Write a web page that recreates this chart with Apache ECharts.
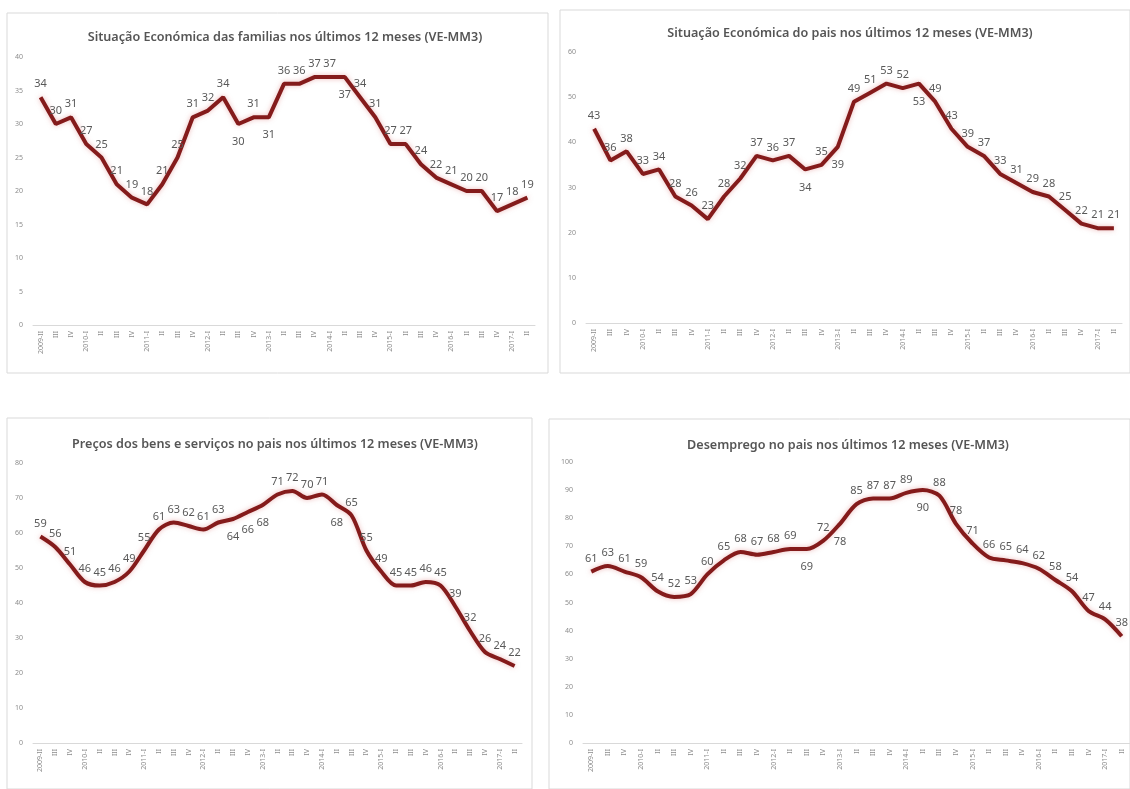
<!DOCTYPE html>
<html><head><meta charset="utf-8">
<script src="https://cdn.jsdelivr.net/npm/echarts@6/dist/echarts.min.js"></script>
<style>html,body{margin:0;padding:0;background:#fff}#c{width:1130px;height:789px}</style>
</head><body><div id="c"></div>
<script>
var categories = ["2009-II","III","IV","2010-I","II","III","IV","2011-I","II","III","IV","2012-I","II","III","IV","2013-I","II","III","IV","2014-I","II","III","IV","2015-I","II","III","IV","2016-I","II","III","IV","2017-I","II"];
var familias = [34,30,31,27,25,21,19,18,21,25,31,32,34,30,31,31,36,36,37,37,37,34,31,27,27,24,22,21,20,20,17,18,19];
var pais = [43,36,38,33,34,28,26,23,28,32,37,36,37,34,35,39,49,51,53,52,53,49,43,39,37,33,31,29,28,25,22,21,21];
var precos = [59,56,51,46,45,46,49,55,61,63,62,61,63,64,66,68,71,72,70,71,68,65,55,49,45,45,46,45,39,32,26,24,22];
var desemprego = [61,63,61,59,54,52,53,60,65,68,67,68,69,69,72,78,85,87,87,89,90,88,78,71,66,65,64,62,58,54,47,44,38];
var titles = [
  "Situação Económica das familias nos últimos 12 meses (VE-MM3)",
  "Situação Económica do pais nos últimos 12 meses (VE-MM3)",
  "Preços dos bens e serviços no pais nos últimos 12 meses (VE-MM3)",
  "Desemprego no pais nos últimos 12 meses (VE-MM3)"
];
var yMax = [40, 60, 80, 100];
var yInt = [5, 10, 10, 10];

// layout / style config
var panels = [
  {box:[7,13,541,360], grid:{left:33,top:57,width:502,height:268}, tx:280, ty:26},
  {box:[560,10,570,363], grid:{left:586,top:52,width:536,height:271}, tx:845, ty:22},
  {box:[7,418,525,371], grid:{left:33,top:463,width:489,height:280}, tx:270, ty:433},
  {box:[549,419,581,370], grid:{left:583,top:462,width:547,height:281}, tx:843, ty:434}
];
var below = [[13,15,20],[13,15,20],[13,14,15,20],[13,15,20]];
var smoothArr = [false,false,0.3,0.3];
var allData = [familias, pais, precos, desemprego];

var option = {
  animation:false,
  backgroundColor:'#fff',
  title: panels.map(function(p,i){return {text:titles[i],left:p.tx,top:p.ty,textAlign:'center',
    textStyle:{fontFamily:'Noto Sans',fontSize:12.6,fontWeight:600,color:'#555'}};}),
  graphic: panels.map(function(p){return {type:'rect',shape:{x:p.box[0],y:p.box[1],width:p.box[2],height:p.box[3]},
    style:{fill:'none',stroke:'#d9d9d9',lineWidth:1},z:-1};}),
  grid: panels.map(function(p){return p.grid;}),
  xAxis: panels.map(function(p,i){return {type:'category',gridIndex:i,data:categories,boundaryGap:true,
    axisLine:{lineStyle:{color:'#d9d9d9'}},axisTick:{show:false},
    axisLabel:{interval:0,rotate:90,fontSize:7,color:'#8c8c8c',fontFamily:'Noto Sans',margin:6}};}),
  yAxis: panels.map(function(p,i){return {type:'value',gridIndex:i,min:0,max:yMax[i],interval:yInt[i],
    splitLine:{show:false},axisLine:{show:false},axisTick:{show:false},
    axisLabel:{fontSize:7,color:'#8c8c8c',fontFamily:'Noto Sans',margin:10}};}),
  series: allData.map(function(arr,i){return {type:'line',xAxisIndex:i,yAxisIndex:i,
    smooth:smoothArr[i],symbol:'circle',symbolSize:1,showSymbol:true,
    itemStyle:{color:'rgba(0,0,0,0)'},
    lineStyle:{color:'#841b1b',width:4,shadowColor:'rgba(220,120,120,0.5)',shadowBlur:5},
    label:{show:true,position:'top',distance:7,fontSize:11,color:'#595959',fontFamily:'Noto Sans'},
    labelLayout:{hideOverlap:false},
    data:arr.map(function(v,k){return below[i].indexOf(k)>=0?{value:v,label:{position:'bottom',distance:12}}:v;})};})
};
var chart = echarts.init(document.getElementById('c'));
chart.setOption(option);
</script></body></html>
